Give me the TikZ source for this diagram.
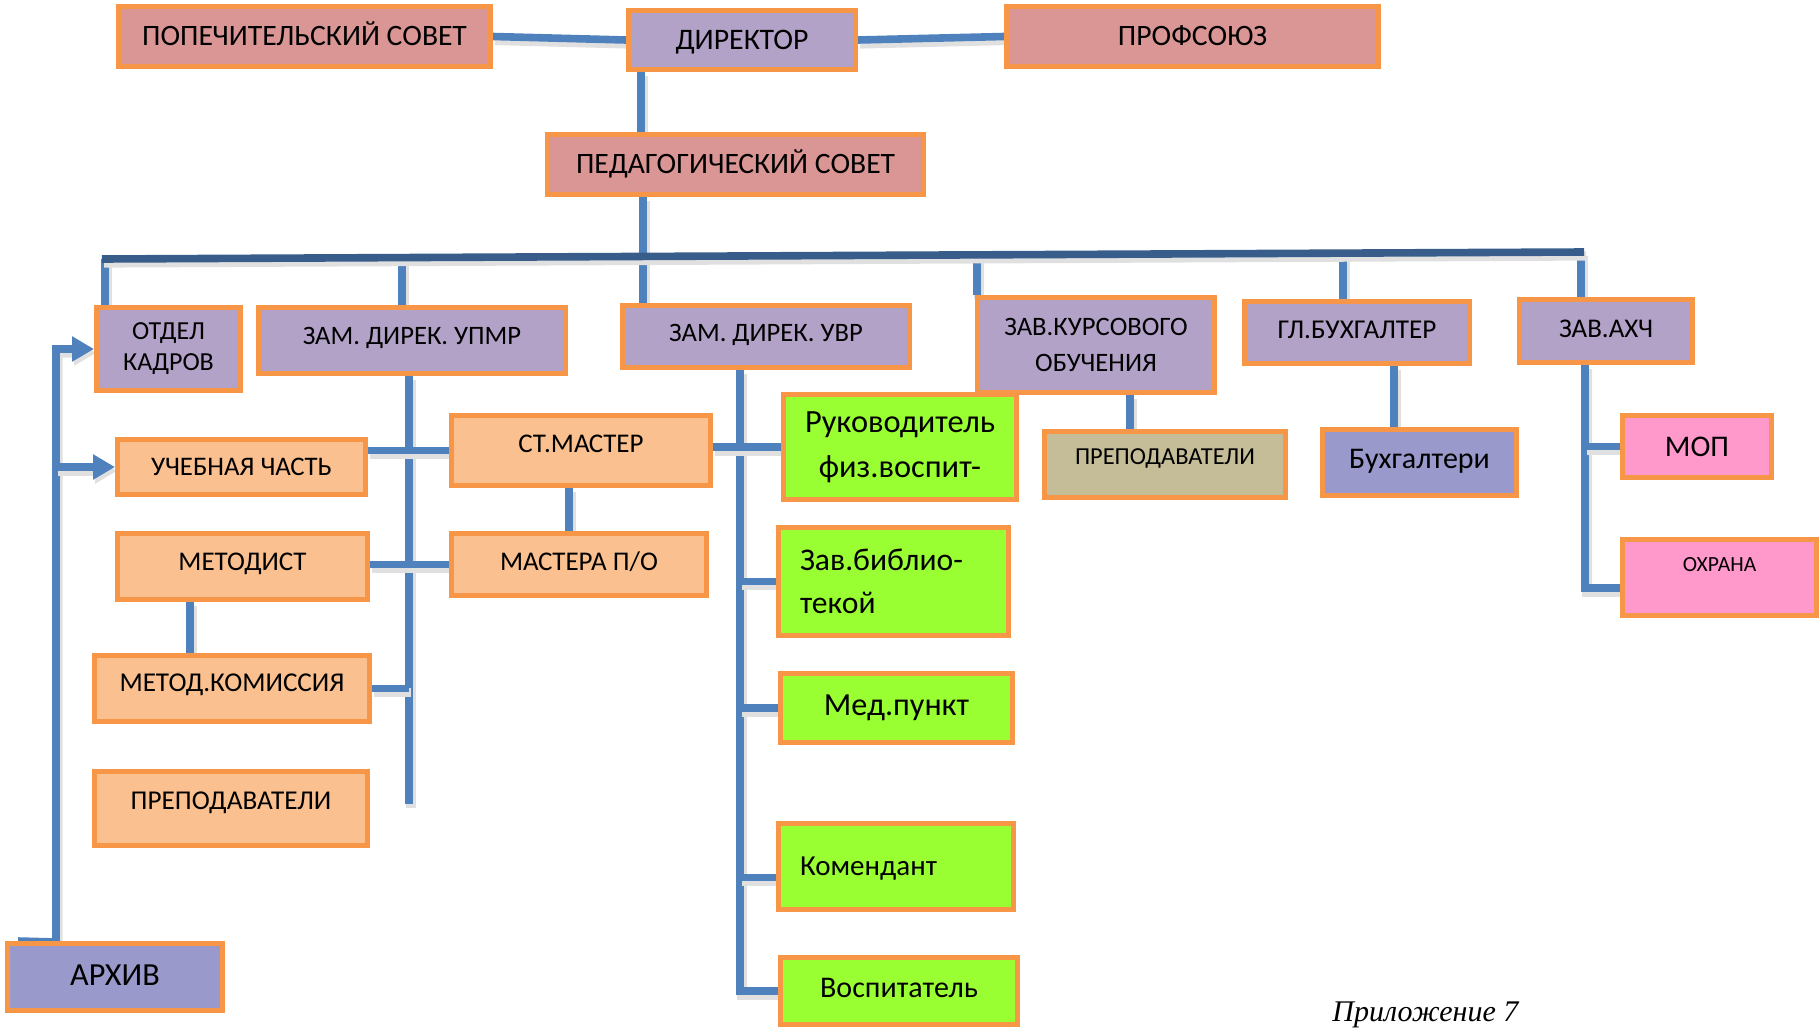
\documentclass[tikz,border=0pt]{standalone}
\usepackage{fontspec}
\setmainfont{Carlito}
\newfontfamily\capfont{Liberation Serif}
\usetikzlibrary{arrows.meta}
\newcommand\fz[2]{\fontsize{#1pt}{#2pt}\selectfont}
\definecolor{bord}{HTML}{F79646}
\definecolor{redf}{HTML}{D99694}
\definecolor{purf}{HTML}{B3A2C7}
\definecolor{orf}{HTML}{FAC090}
\definecolor{grf}{HTML}{99FF33}
\definecolor{khf}{HTML}{C4BD97}
\definecolor{bpf}{HTML}{9999CC}
\definecolor{pkf}{HTML}{FF99CC}
\definecolor{lnc}{HTML}{4F81BD}
\definecolor{busc}{HTML}{385D8A}
\pgfdeclarelayer{bg}
\pgfsetlayers{bg,main}
\tikzset{
  box/.style={draw=bord, line width=2.5pt, inner sep=0pt, align=center},
  conn/.style={draw=lnc, line width=3.8pt,
    preaction={draw=black!12, line width=4.6pt, transform canvas={xshift=1pt,yshift=-2pt}}},
  busline/.style={conn, draw=busc},
  arr/.style={-{Triangle[length=11pt,width=12pt]}},
}
\begin{document}
\begin{tikzpicture}[x=0.5pt,y=-0.5pt]
\useasboundingbox (0,0) rectangle (1820,1028);
% top
\node[box,fill=redf,minimum width=186pt,minimum height=30pt,font=\fz{14.8}{17},text height=9.3pt,text depth=0pt] (pop) at (304.5,36.5) {ПОПЕЧИТЕЛЬСКИЙ СОВЕТ};
\node[box,fill=purf,minimum width=113.5pt,minimum height=29.5pt,font=\fz{14.9}{17},text height=9.4pt,text depth=0pt] (dir) at (742,40) {ДИРЕКТОР};
\node[box,fill=redf,minimum width=186pt,minimum height=30pt,font=\fz{14.8}{17},text height=9.3pt,text depth=0pt] (prof) at (1192.5,36.5) {ПРОФСОЮЗ};
\node[box,fill=redf,minimum width=188pt,minimum height=30pt,font=\fz{14.8}{17},text height=9.3pt,text depth=0pt] (ped) at (735.5,164.5) {ПЕДАГОГИЧЕСКИЙ СОВЕТ};
% second row
\node[box,fill=purf,minimum width=72pt,minimum height=41.5pt,font=\fz{13}{15.5}] (otdel) at (168.5,349) {ОТДЕЛ\\КАДРОВ};
\node[box,fill=purf,minimum width=153.5pt,minimum height=33pt,font=\fz{13.3}{15},text height=8.4pt,text depth=4.5pt] (upmr) at (412,340.5) {ЗАМ. ДИРЕК. УПМР};
\node[box,fill=purf,minimum width=143.5pt,minimum height=31pt,font=\fz{13.3}{15},text height=8.4pt,text depth=3.5pt] (uvr) at (766,336.5) {ЗАМ. ДИРЕК. УВР};
\node[box,fill=purf,minimum width=118.5pt,minimum height=47.5pt,font=\fz{13.3}{18}] (kurs) at (1096,345) {ЗАВ.КУРСОВОГО\\ОБУЧЕНИЯ};
\node[box,fill=purf,minimum width=112.5pt,minimum height=31pt,font=\fz{13.6}{15},text height=8.6pt,text depth=2.5pt] (glbuh) at (1357,332.5) {ГЛ.БУХГАЛТЕР};
\node[box,fill=purf,minimum width=86.5pt,minimum height=31.5pt,font=\fz{13.5}{15},text height=8.5pt,text depth=2pt] (ahch) at (1606,331) {ЗАВ.АХЧ};
% UPMR branch
\node[box,fill=orf,minimum width=124pt,minimum height=27.5pt,font=\fz{13.4}{15},text height=8.4pt,text depth=0pt] (ucheb) at (241.5,467) {УЧЕБНАЯ ЧАСТЬ};
\node[box,fill=orf,minimum width=129.5pt,minimum height=35pt,font=\fz{13.5}{15},text height=8.5pt,text depth=6.5pt] (stm) at (581,450.5) {СТ.МАСТЕР};
\node[box,fill=orf,minimum width=125pt,minimum height=33pt,font=\fz{13.5}{15},text height=8.5pt,text depth=5pt] (metod) at (242.5,566.5) {МЕТОДИСТ};
\node[box,fill=orf,minimum width=127.5pt,minimum height=31pt,font=\fz{13.5}{15},text height=8.5pt,text depth=2.5pt] (mastera) at (579,564.5) {МАСТЕРА П/О};
\node[box,fill=orf,minimum width=137.5pt,minimum height=33pt,font=\fz{13.6}{15},text height=8.6pt,text depth=5.5pt] (komis) at (232,688.5) {МЕТОД.КОМИССИЯ};
\node[box,fill=orf,minimum width=136.5pt,minimum height=37pt,font=\fz{13.6}{15},text height=8.6pt,text depth=7.5pt] (prepL) at (231,808.5) {ПРЕПОДАВАТЕЛИ};
\node[box,fill=bpf,minimum width=107.5pt,minimum height=33.5pt,font=\fz{16.1}{18},text height=10.1pt,text depth=2pt] (arch) at (115,977) {АРХИВ};
% UVR branch
\node[box,fill=grf,minimum width=116.5pt,minimum height=52.5pt,font=\fz{16.2}{22.5}] (ruk) at (900,447) {Руководитель\\физ.воспит-};
\node[box,fill=grf,minimum width=115pt,minimum height=54pt,font=\fz{15.8}{21.5},text width=93.5pt,align=left] (bib) at (893.5,581.5) {Зав.библио-\\текой};
\node[box,fill=grf,minimum width=116pt,minimum height=34.5pt,font=\fz{16.1}{18},text height=10.1pt,text depth=3pt] (med) at (896.5,708) {Мед.пункт};
\node[box,fill=grf,minimum width=117.5pt,minimum height=43pt,font=\fz{14.5}{18},text height=9.1pt,text depth=0pt,text width=96pt,align=left] (kom) at (896,866.5) {Комендант};
\node[box,fill=grf,minimum width=118.5pt,minimum height=33.5pt,font=\fz{15}{18},text height=9.5pt,text depth=3pt] (vos) at (899,991) {Воспитатель};
% right branches
\node[box,fill=khf,minimum width=120.5pt,minimum height=33pt,font=\fz{12.2}{14},text height=7.7pt,text depth=7.5pt] (prepR) at (1165,464.5) {ПРЕПОДАВАТЕЛИ};
\node[box,fill=bpf,minimum width=97pt,minimum height=33pt,font=\fz{15}{17},text height=9.5pt,text depth=3.5pt] (buh) at (1419.5,462.5) {Бухгалтери};
\node[box,fill=pkf,minimum width=74.5pt,minimum height=31pt,font=\fz{15}{18},text height=9.5pt,text depth=0pt] (mop) at (1697,446.5) {МОП};
\node[box,fill=pkf,minimum width=97pt,minimum height=38pt,font=\fz{10.8}{12},text height=6.8pt,text depth=12.5pt] (ohr) at (1719.5,577.5) {ОХРАНА};
% caption
\node[font=\capfont\itshape\fz{15}{18},anchor=base west,inner sep=0pt] (cap) at (1332,1021) {Приложение 7};

% junction coordinates
\coordinate (busL) at (102,259);
\coordinate (busR) at (1584,252);
\coordinate (b1) at (105,259);
\coordinate (b2) at (402,257.6);
\coordinate (b3) at (643,256.4);
\coordinate (b4) at (977,254.9);
\coordinate (b5) at (1343,253.1);
\coordinate (b6) at (1581,252);
\coordinate (c641) at (641,100);
\coordinate (u1) at (409,804);
\coordinate (c569) at (569,510);
\coordinate (c190) at (190,630);
\coordinate (v1) at (740,600);
\coordinate (c1130) at (1130,410);
\coordinate (c1394) at (1394,400);
\coordinate (o1) at (1585,588);
\coordinate (a1) at (56,942);

\begin{pgfonlayer}{bg}
\draw[conn] (pop.east) -- (dir.west);
\draw[conn] (dir.east) -- (prof.west);
\draw[conn] (dir.south -| c641) -- (ped.north -| c641);
\draw[conn] (ped.south -| b3) -- (uvr.north -| b3);
\draw[conn] (otdel.north -| b1) -- (b1);
\draw[conn] (upmr.north -| b2) -- (b2);
\draw[conn] (kurs.north -| b4) -- (b4);
\draw[conn] (glbuh.north -| b5) -- (b5);
\draw[conn] (ahch.north -| b6) -- (b6);
\draw[busline] (busL) -- (busR);
% UPMR
\draw[conn] (upmr.south -| u1) -- (u1);
\draw[conn] (ucheb.east |- stm.west) -- (stm.west);
\draw[conn] (metod.east |- mastera.west) -- (mastera.west);
\draw[conn] (stm.south -| c569) -- (mastera.north -| c569);
\draw[conn] (metod.south -| c190) -- (komis.north -| c190);
\draw[conn] (komis.east) -- (komis.east -| u1);
% UVR
\draw[conn] (uvr.south -| v1) -- (v1 |- vos.west) -- (vos.west);
\draw[conn] (stm.east |- ruk.west) -- (ruk.west);
\draw[conn] (v1 |- bib.west) -- (bib.west);
\draw[conn] (v1 |- med.west) -- (med.west);
\draw[conn] ([yshift=-5.5pt]kom.west) -- ++(-36,0);
% right
\draw[conn] (kurs.south -| c1130) -- (prepR.north -| c1130);
\draw[conn] (glbuh.south -| c1394) -- (buh.north -| c1394);
\draw[conn] (ahch.south -| o1) -- (o1) -- (o1 -| ohr.west);
\draw[conn] (o1 |- mop.west) -- (mop.west);
% archive
\draw[conn,arr] ([xshift=6.5pt]arch.north west) -- (a1) -- (a1 |- otdel.west) -- (otdel.west);
\draw[conn,arr] (a1 |- ucheb.west) -- (ucheb.west);
\end{pgfonlayer}
\end{tikzpicture}
\end{document}
